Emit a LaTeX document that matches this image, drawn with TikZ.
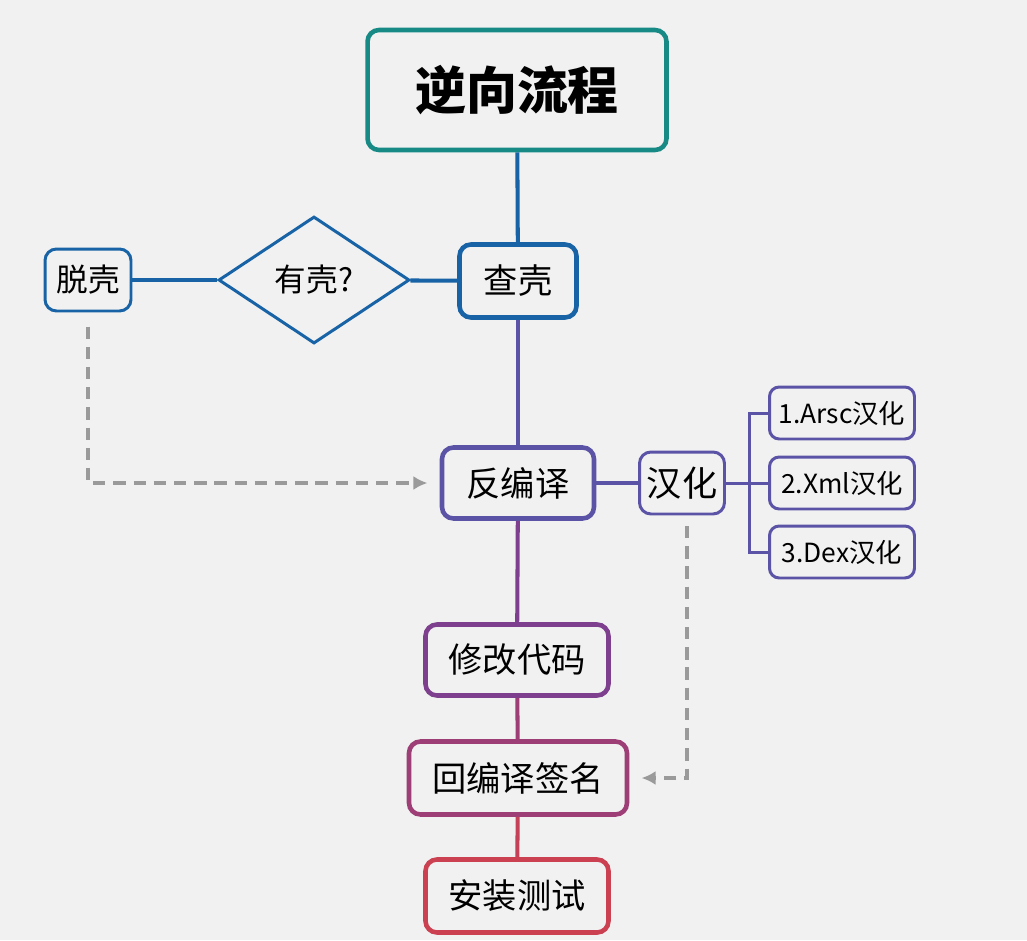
\documentclass[tikz,border=0pt]{standalone}
\usepackage{fontspec}
\setmainfont{Noto Sans CJK SC}
\usetikzlibrary{arrows.meta,shapes.geometric}
\definecolor{flowbg}{HTML}{F1F1F1}
\definecolor{flowteal}{HTML}{178A85}
\definecolor{flowblue}{HTML}{1863A6}
\definecolor{flowpurple}{HTML}{5B53A6}
\definecolor{flowviolet}{HTML}{7D3F8E}
\definecolor{flowmagenta}{HTML}{9E3E76}
\definecolor{flowred}{HTML}{CB4152}
\definecolor{flowgray}{HTML}{9A9A9A}

\begin{document}
\begin{tikzpicture}[x=0.02cm, y=-0.02cm,
    box/.style={draw, rounded corners=6.5pt, fill=flowbg, inner sep=0pt, align=center,
      line width=2.6pt, font=\fontsize{19.5}{22}\selectfont},
    smallbox/.style={box, line width=1.7pt, font=\fontsize{18}{20}\selectfont},
    branchbox/.style={box, line width=1.7pt, rounded corners=5.5pt, draw=flowpurple,
      minimum width=2.9cm, minimum height=1.04cm, font=\fontsize{15}{17}\selectfont},
    link/.style={line width=2.3pt},
    dasharrow/.style={draw=flowgray, line width=2pt, dash pattern=on 7pt off 4.5pt,
      -{Latex[length=8pt, width=8pt]}}
  ]
    \useasboundingbox[fill=flowbg] (0,0) rectangle (1027,940);

    % main column
    \node[box, draw=flowteal, minimum width=5.98cm, minimum height=2.4cm,
      font=\fontsize{29}{32}\selectfont\bfseries] (title) at (517,90) {逆向流程};
    \node[box, draw=flowblue, minimum width=2.34cm, minimum height=1.46cm] (chake) at (518,281) {查壳};
    \node[box, draw=flowpurple, minimum width=3.04cm, minimum height=1.42cm] (fanbianyi) at (518,483) {反编译};
    \node[box, draw=flowviolet, minimum width=3.66cm, minimum height=1.42cm] (xiugai) at (517,660) {修改代码};
    \node[box, draw=flowmagenta, minimum width=4.36cm, minimum height=1.46cm] (huibianyi) at (518,778) {回编译签名};
    \node[box, draw=flowred, minimum width=3.66cm, minimum height=1.46cm] (anzhuang) at (517,896) {安装测试};

    % shell branch
    \node[diamond, draw=flowblue, line width=1.7pt, fill=flowbg, inner sep=0pt,
      minimum width=3.82cm, minimum height=2.54cm, font=\fontsize{18}{20}\selectfont] (youke) at (314,280) {有壳?};
    \node[smallbox, draw=flowblue, minimum width=1.72cm, minimum height=1.24cm] (tuoke) at (88,280) {脱壳};

    % localisation branch
    \node[smallbox, draw=flowpurple, minimum width=1.7cm, minimum height=1.24cm,
      font=\fontsize{20}{22}\selectfont] (hanhua) at (682,483) {汉化};
    \node[branchbox] (arsc) at (842,413) {1.Arsc汉化};
    \node[branchbox] (xml) at (842,483) {2.Xml汉化};
    \node[branchbox] (dex) at (842,552) {3.Dex汉化};
    \coordinate (fork) at (749,483);

    \draw[link, flowblue] (title) -- (chake);
    \draw[link, flowpurple] (chake) -- (fanbianyi);
    \draw[link, flowviolet] (fanbianyi) -- (xiugai);
    \draw[link, flowmagenta] (xiugai) -- (huibianyi);
    \draw[link, flowred!85!flowmagenta] (huibianyi) -- (anzhuang);
    \draw[link, flowblue] (chake) -- (youke);
    \draw[link, flowblue] (youke) -- (tuoke);
    \draw[link, flowpurple] (fanbianyi) -- (hanhua);
    \draw[flowpurple, line width=1.7pt] (hanhua) -- (fork) -- (xml);
    \draw[flowpurple, line width=1.7pt] (fork) |- (arsc);
    \draw[flowpurple, line width=1.7pt] (fork) |- (dex);

    \draw[dasharrow, shorten <=8pt, shorten >=7pt] (tuoke) |- (fanbianyi);
    \draw[dasharrow, shorten <=6pt, shorten >=7pt] ([xshift=0.1cm]hanhua.south) |- (huibianyi);
  \end{tikzpicture}
\end{document}
